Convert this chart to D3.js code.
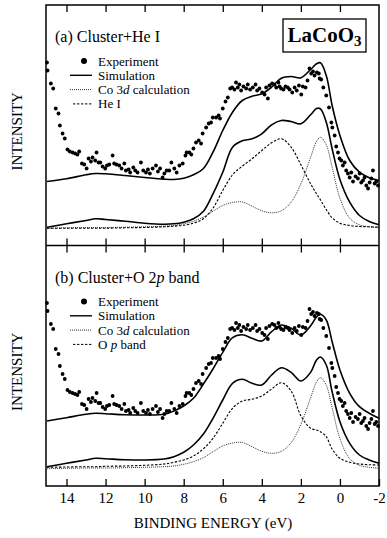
<!DOCTYPE html>
<html>
<head>
<meta charset="utf-8">
<script src="https://cdn.jsdelivr.net/npm/d3@7"></script>
<style>
  body { margin: 0; background: #fff; }
  svg { display: block; font-family: "Liberation Serif", "Times New Roman", serif; }
</style>
</head>
<body>
<div id="chart"></div>
<script>
"use strict";

// binding energy grid (eV) of the calculated curves
const curveEnergy = [15, 14, 13, 12.5, 12, 11, 10, 9, 8.5, 8, 7.5, 7, 6.5, 6, 5.5, 5, 4.5, 4,
  3.5, 3, 2.5, 2, 1.5, 1.2, 1, 0.7, 0.4, 0, -0.5, -1, -1.5, -2];

// (a) Cluster + He I
const simAUpper = [64, 66.7, 70.7, 72, 71.7, 70, 68, 66.3, 66, 67.3, 70.7, 76.7, 93.3, 115, 133.3, 145,
  149.3, 151.7, 158.3, 167.3, 169, 167.7, 176, 181.7, 182.7, 170, 140, 110, 85, 73.3, 67.7, 65];
const simALower = [18.3, 21.7, 25, 26.7, 26, 24.3, 22.3, 21.3, 21.7, 23.3, 26.7, 34, 51.7, 73.3, 98.3, 104.7,
  106.7, 111.7, 120.7, 125, 124, 121.7, 130.7, 137, 136.7, 123.3, 96.7, 66, 43.3, 30, 24, 20.7];
const co3dCalc = [17.3, 17.7, 18, 18, 18, 18.3, 18.7, 19.3, 20, 21.7, 24.3, 28.3, 34.3, 40, 43, 43.5,
  39.3, 34.7, 32.7, 34.7, 43.3, 61.7, 88.3, 104, 108.3, 100.7, 78.3, 47.3, 27.3, 20.7, 18.7, 17.7];
const heI = [17.3, 17.3, 17.3, 17.3, 17.3, 17.7, 18, 18.7, 19.3, 20.3, 22.3, 26.7, 37.3, 55, 70.7, 79.3,
  86.7, 95, 102.7, 106.7, 98.3, 80.7, 61.7, 51.7, 45.7, 36, 27.7, 22.3, 20, 19, 18.7, 18.3];

// (b) Cluster + O 2p band
const simBUpper = [65, 68.3, 71.7, 72.7, 72.3, 71.3, 71, 71.7, 75, 80, 87.7, 101.7, 117, 133.7, 148.3, 151.3,
  147.7, 145, 154.3, 161, 157.7, 151, 160.3, 169, 171.7, 166, 144.3, 116, 92.7, 79.3, 72.7, 67.7];
const simBLower = [19.3, 22.7, 26, 27.7, 27.3, 26.3, 26, 27, 29.3, 33.7, 41, 51.7, 67.7, 86, 102.7, 106.7,
  102.7, 101, 111, 118.3, 113.7, 105, 113.7, 126, 129, 121, 94.3, 64.3, 42.7, 31, 26, 22.7];
const oPBand = [18.7, 19, 19.3, 19.3, 19.7, 20, 20.7, 22, 23.7, 26, 30, 37, 47.7, 62.7, 77.7, 85,
  86.7, 90, 97, 103.3, 95, 70.3, 57.7, 56, 54.3, 49.3, 37, 27.7, 23.7, 22, 21.3, 21];

// measured spectrum (same in both panels)
const expEnergy = [15.0, 14.97, 14.8, 14.68, 14.55, 14.41, 14.34, 14.2, 14.09, 13.95, 13.83, 13.69, 13.56,
  13.44, 13.35, 13.21, 13.09, 12.97, 12.87, 12.75, 12.67, 12.53, 12.46, 12.36, 12.27, 12.15, 12.02, 11.93,
  11.81, 11.64, 11.56, 11.44, 11.3, 11.18, 11.04, 10.96, 10.82, 10.74, 10.58, 10.48, 10.36, 10.19, 10.07,
  9.93, 9.83, 9.73, 9.59, 9.42, 9.32, 9.21, 9.08, 8.99, 8.87, 8.74, 8.63, 8.48, 8.36, 8.22, 8.05, 7.91,
  7.85, 7.71, 7.61, 7.5, 7.37, 7.23, 7.11, 7.03, 6.85, 6.72, 6.6, 6.51, 6.34, 6.21, 6.14, 6.0, 5.86, 5.74,
  5.62, 5.52, 5.4, 5.32, 5.23, 5.15, 5.06, 4.94, 4.8, 4.72, 4.6, 4.46, 4.32, 4.24, 4.12, 3.98, 3.86, 3.78,
  3.69, 3.61, 3.47, 3.35, 3.26, 3.15, 3.09, 3.01, 2.89, 2.79, 2.67, 2.58, 2.44, 2.32, 2.21, 2.1, 1.98, 1.9,
  1.76, 1.66, 1.56, 1.47, 1.38, 1.3, 1.18, 1.08, 1.04, 0.96, 0.85, 0.7, 0.56, 0.44, 0.39, 0.27, 0.19, 0.1,
  0.02, -0.07, -0.15, -0.24, -0.32, -0.41, -0.5, -0.58, -0.67, -0.8, -0.92, -1.01, -1.09, -1.18, -1.26,
  -1.35, -1.44, -1.52, -1.61, -1.69, -1.78, -1.86, -1.95];
const expIntensity = [183, 175, 162, 157, 137, 132, 120, 112, 107, 96, 94, 93, 92,
  91, 94, 82, 81, 77, 87, 84, 88, 85, 93, 83, 83, 79, 77, 80,
  81, 90, 82, 81, 80, 77, 82, 75, 76, 73, 78, 75, 73, 83, 75,
  73, 76, 72, 77, 80, 74, 77, 68, 72, 75, 75, 83, 77, 73, 80, 82, 90,
  93, 93, 91, 97, 103, 105, 102, 112, 118, 122, 123, 128, 128, 130, 127, 137, 144, 148,
  157, 158, 156, 163, 158, 161, 155, 159, 157, 161, 156, 158, 161, 155, 157, 153, 151, 158,
  147, 160, 162, 161, 158, 163, 159, 157, 156, 159, 158, 156, 153, 158, 155, 160, 151, 159,
  158, 165, 177, 172, 174, 170, 173, 172, 167, 166, 158, 150, 138, 123, 118, 110, 99, 93,
  87, 85, 80, 83, 75, 72, 68, 73, 64, 69, 67, 72, 63, 65, 68,
  60, 57, 63, 67, 75, 62, 64, 60];

const tickEnergies = [14, 12, 10, 8, 6, 4, 2, 0, -2];
const tickLabels = ["14", "12", "10", "8", "6", "4", "2", "0", "-2"];

const svgWidth = 387;
const svgHeight = 538;
const frameLeft = 46;
const frameRight = 379;
const frameTop = 5;
const frameMid = 245.5;
const frameBottom = 486;

const svg = d3.select("#chart")
  .append("svg")
  .attr("width", svgWidth)
  .attr("height", svgHeight)
;

const xScale = d3.scaleLinear()
  .domain([15.05, -2])
  .range([frameLeft, frameRight])
;

const pair = (ys) => curveEnergy.map((e, i) => [e, ys[i]]);
const expPoints = expEnergy.map((e, i) => [e, expIntensity[i]]);

const panels = [
  {
    top: frameTop, bottom: frameMid,
    title: [["(a) Cluster+He I", "normal"]],
    bandLabel: [["He I", "normal"]],
    curves: [
      { data: pair(co3dCalc), kind: "co3d" },
      { data: pair(heI), kind: "band" },
      { data: pair(simALower), kind: "sim" },
      { data: pair(simAUpper), kind: "sim" }
    ]
  },
  {
    top: frameMid, bottom: frameBottom,
    title: [["(b) Cluster+O 2", "normal"], ["p", "italic"], [" band", "normal"]],
    bandLabel: [["O ", "normal"], ["p", "italic"], [" band", "normal"]],
    curves: [
      { data: pair(co3dCalc), kind: "co3d" },
      { data: pair(oPBand), kind: "band" },
      { data: pair(simBLower), kind: "sim" },
      { data: pair(simBUpper), kind: "sim" }
    ]
  }
];

const lineStyle = {
  sim: { stroke: "#000", width: 1.6, dash: null },
  co3d: { stroke: "#333", width: 1, dash: "1,1" },
  band: { stroke: "#000", width: 1.1, dash: "2.4,1.6" }
};

panels.forEach(panel => {
  const yScale = d3.scaleLinear()
    .domain([0, 240])
    .range([panel.bottom, panel.bottom - 240])
  ;
  const line = d3.line()
    .x(d => xScale(d[0]))
    .y(d => yScale(d[1]))
    .curve(d3.curveCatmullRom.alpha(0.5))
  ;
  const g = svg.append("g");

  g.selectAll("path.curve")
    .data(panel.curves)
    .enter()
    .append("path")
    .attr("class", "curve")
    .attr("d", d => line(d.data))
    .attr("fill", "none")
    .attr("stroke", d => lineStyle[d.kind].stroke)
    .attr("stroke-width", d => lineStyle[d.kind].width)
    .attr("stroke-dasharray", d => lineStyle[d.kind].dash)
  ;

  g.selectAll("circle")
    .data(expPoints)
    .enter()
    .append("circle")
    .attr("cx", d => xScale(d[0]))
    .attr("cy", d => yScale(d[1]))
    .attr("r", 1.9)
    .attr("fill", "#000")
  ;

  // title
  const title = g.append("text")
    .attr("x", 55)
    .attr("y", panel.top + 37)
    .attr("font-size", 16)
  ;
  panel.title.forEach(t => title.append("tspan").attr("font-style", t[1]).text(t[0]));

  // legend
  const ly = panel.top + 56;
  g.append("circle").attr("cx", 84).attr("cy", ly).attr("r", 3).attr("fill", "#000");
  const legendRows = [
    { kind: "sim", label: [["Simulation", "normal"]] },
    { kind: "co3d", label: [["Co 3", "normal"], ["d", "italic"], [" calculation", "normal"]] },
    { kind: "band", label: panel.bandLabel }
  ];
  const legendText = [{ label: [["Experiment", "normal"]] }].concat(legendRows);
  legendText.forEach((row, i) => {
    const t = g.append("text")
      .attr("x", 98)
      .attr("y", ly + 4.5 + i * 14.3)
      .attr("font-size", 13)
    ;
    row.label.forEach(s => t.append("tspan").attr("font-style", s[1]).text(s[0]));
  });
  legendRows.forEach((row, i) => {
    g.append("line")
      .attr("x1", row.kind === "band" ? 73 : 70)
      .attr("x2", 92)
      .attr("y1", ly + 14.3 * (i + 1))
      .attr("y2", ly + 14.3 * (i + 1))
      .attr("stroke", lineStyle[row.kind].stroke)
      .attr("stroke-width", row.kind === "sim" ? 1.4 : 1)
      .attr("stroke-dasharray", lineStyle[row.kind].dash)
    ;
  });

  // y label
  g.append("text")
    .attr("transform", `translate(22, ${(panel.top + panel.bottom) / 2 + 6}) rotate(-90)`)
    .attr("text-anchor", "middle")
    .attr("font-size", 15)
    .text("INTENSITY")
  ;
});

// frame
svg.append("rect")
  .attr("x", frameLeft)
  .attr("y", frameTop)
  .attr("width", frameRight - frameLeft)
  .attr("height", frameBottom - frameTop)
  .attr("fill", "none")
  .attr("stroke", "#000")
  .attr("stroke-width", 1.5)
;
svg.append("line")
  .attr("x1", frameLeft)
  .attr("x2", frameRight)
  .attr("y1", frameMid)
  .attr("y2", frameMid)
  .attr("stroke", "#000")
  .attr("stroke-width", 1.5)
;

// ticks
const innerTicks = tickEnergies.filter(e => e > -2);

svg.append("g")
  .attr("transform", `translate(0, ${frameTop})`)
  .call(d3.axisTop(xScale).tickValues(innerTicks).tickSize(-7).tickFormat(""))
  .call(g => g.select(".domain").remove())
;
svg.append("g")
  .attr("transform", `translate(0, ${frameMid + 7})`)
  .call(d3.axisTop(xScale).tickValues(innerTicks).tickSize(14).tickFormat(""))
  .call(g => g.select(".domain").remove())
;
const xAxis = svg.append("g")
  .attr("transform", `translate(0, ${frameBottom})`)
  .call(d3.axisBottom(xScale)
    .tickValues(tickEnergies)
    .tickSize(-7)
    .tickPadding(6)
    .tickFormat((d, i) => tickLabels[i]))
  .call(g => g.select(".domain").remove())
;
xAxis.selectAll("text")
  .attr("font-size", 15)
  .attr("font-family", "Liberation Serif, serif")
;
svg.selectAll(".tick line").attr("stroke-width", 1.3);

svg.append("text")
  .attr("x", 213)
  .attr("y", 528)
  .attr("text-anchor", "middle")
  .attr("font-size", 15)
  .text("BINDING ENERGY (eV)")
;

// compound label
svg.append("rect")
  .attr("x", 283)
  .attr("y", 19)
  .attr("width", 83)
  .attr("height", 33)
  .attr("fill", "#fff")
  .attr("stroke", "#000")
  .attr("stroke-width", 1.3)
;
const formula = svg.append("text")
  .attr("x", 324.5)
  .attr("y", 42)
  .attr("text-anchor", "middle")
  .attr("font-size", 21)
  .attr("font-weight", "bold")
;
formula.append("tspan").text("LaCoO");
formula.append("tspan").attr("font-size", 15).attr("dy", 4).text("3");
</script>
</body>
</html>
